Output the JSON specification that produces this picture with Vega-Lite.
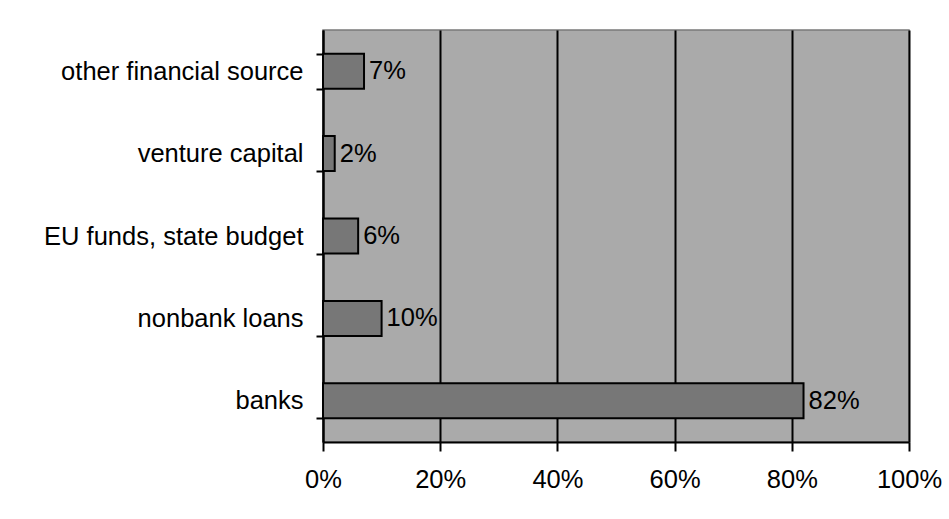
{
  "$schema": "https://vega.github.io/schema/vega-lite/v6.json",
  "width": 586,
  "height": 412,
  "autosize": "none",
  "padding": {"left": 323, "top": 30, "right": 40, "bottom": 77},
  "background": "white",
  "data": {
    "values": [
      {"source": "other financial source", "share": 0.07},
      {"source": "venture capital", "share": 0.02},
      {"source": "EU funds, state budget", "share": 0.06},
      {"source": "nonbank loans", "share": 0.10},
      {"source": "banks", "share": 0.82}
    ]
  },
  "config": {
    "font": "Liberation Sans",
    "view": {"fill": "#aaaaaa", "stroke": "#7a7a7a", "strokeWidth": 1.5}
  },
  "encoding": {
    "y": {
      "field": "source",
      "type": "nominal",
      "sort": null,
      "scale": {"paddingInner": 0.575, "paddingOuter": 0.2875},
      "axis": {
        "title": null,
        "tickBand": "extent",
        "domainColor": "#000000",
        "domainWidth": 2,
        "tickColor": "#000000",
        "tickWidth": 2,
        "tickSize": 7,
        "labelFontSize": 25.5,
        "labelColor": "#000000",
        "labelPadding": 13,
        "labelLimit": 400,
        "grid": false
      }
    },
    "x": {
      "field": "share",
      "type": "quantitative",
      "scale": {"domain": [0, 1]},
      "axis": {
        "title": null,
        "values": [0, 0.2, 0.4, 0.6, 0.8, 1],
        "format": ".0%",
        "grid": true,
        "gridColor": "#000000",
        "gridWidth": 2,
        "gridOpacity": 1,
        "domainColor": "#000000",
        "domainWidth": 2,
        "tickColor": "#000000",
        "tickWidth": 2,
        "tickSize": 9,
        "labelFontSize": 25.5,
        "labelColor": "#000000",
        "labelPadding": 16,
        "labelFlush": false
      }
    }
  },
  "layer": [
    {
      "mark": {"type": "bar", "fill": "#777777", "stroke": "#000000", "strokeWidth": 2}
    },
    {
      "mark": {"type": "text", "align": "left", "baseline": "middle", "dx": 5, "fontSize": 25.5, "fill": "#000000"},
      "encoding": {
        "text": {"field": "share", "type": "quantitative", "format": ".0%"}
      }
    }
  ]
}
